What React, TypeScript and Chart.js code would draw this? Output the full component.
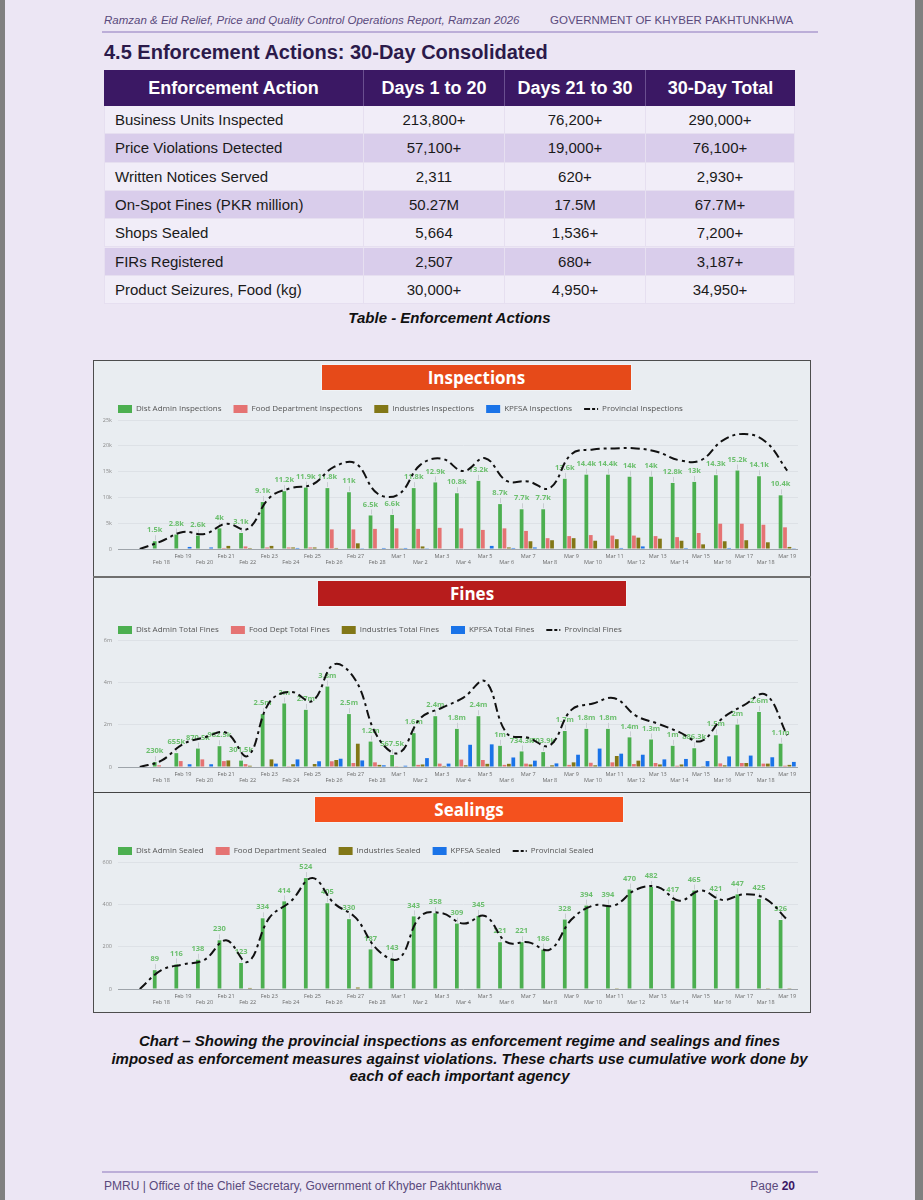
import React, { useEffect, useRef } from 'react';
import { Chart, registerables } from 'chart.js';

Chart.register(...registerables);
Chart.defaults.font.family = '"Open Sans", sans-serif';

// ---------------- Data ----------------
const days = ['',
  'Feb 18', 'Feb 19', 'Feb 20', 'Feb 21', 'Feb 22', 'Feb 23', 'Feb 24', 'Feb 25', 'Feb 26', 'Feb 27', 'Feb 28',
  'Mar 1', 'Mar 2', 'Mar 3', 'Mar 4', 'Mar 5', 'Mar 6', 'Mar 7', 'Mar 8', 'Mar 9', 'Mar 10',
  'Mar 11', 'Mar 12', 'Mar 13', 'Mar 14', 'Mar 15', 'Mar 16', 'Mar 17', 'Mar 18', 'Mar 19'];

// Inspections (thousands)
const inspDistAdmin = [0, 1.5, 2.8, 2.6, 4, 3.1, 9.1, 11.2, 11.9, 11.8, 11, 6.5,
  6.6, 11.8, 12.9, 10.8, 13.2, 8.7, 7.7, 7.7, 13.6, 14.4, 14.4, 14, 14, 12.8, 13, 14.3, 15.2, 14.1, 10.4];
const inspFood = [0, 0, 0.1, 0, 0.2, 0.5, 0.3, 0.3, 0.3, 3.8, 3.8, 3.9,
  4.0, 3.9, 4.1, 4.0, 3.7, 4.0, 3.5, 2.1, 2.5, 2.7, 2.6, 2.6, 2.5, 2.3, 3.1, 4.9, 4.9, 4.7, 4.2];
const inspIndustries = [0, 0, 0, 0, 0.6, 0.2, 0.6, 0.3, 0.3, 0.2, 1.1, 0.1,
  0.05, 0.5, 0.1, 0.1, 0.1, 0.3, 1.5, 1.7, 2.1, 1.6, 1.9, 2.2, 2.0, 1.6, 0.9, 1.5, 1.7, 1.3, 0.4];
const inspKpfsa = [0, 0, 0.4, 0.3, 0.1, 0.1, 0.1, 0.2, 0.1, 0.1, 0.05, 0.2,
  0.2, 0.05, 0.1, 0.1, 0.6, 0.2, 0.3, 0.1, 0.1, 0.1, 0.2, 0.5, 0.1, 0.2, 0.1, 0.2, 0.1, 0.1, 0.05];
const inspProvincial = [0, 1.5, 3.3, 2.9, 4.9, 3.9, 9.9, 11.8, 12.5, 15.9, 16.6, 10.8,
  10.6, 16.3, 17.5, 15.1, 17.6, 13.2, 13.1, 11.8, 18.4, 19.3, 19.5, 19.5, 18.8, 17.2, 17.2, 21.0, 22.3, 20.8, 15.2];

// Fines (millions PKR)
const finesDistAdmin = [0, 0.23, 0.655, 0.8705, 0.9825, 0.3015, 2.5, 3, 2.7, 3.8, 2.5, 1.2,
  0.5675, 1.6, 2.4, 1.8, 2.4, 1, 0.7343, 0.7039, 1.7, 1.8, 1.8, 1.4, 1.3, 1, 0.8863, 1.5, 2, 2.6, 1.1];
const finesFood = [0, 0.08, 0.28, 0.36, 0.28, 0.14, 0.02, 0.01, 0.02, 0.27, 0.19, 0.22,
  0.01, 0.1, 0.16, 0.35, 0.33, 0.1, 0.16, 0.03, 0.1, 0.2, 0.22, 0.14, 0.19, 0.06, 0.02, 0.17, 0.19, 0.16, 0.06];
const finesIndustries = [0, 0, 0, 0, 0.31, 0.06, 0.36, 0.13, 0.14, 0.33, 1.1, 0.1,
  0.02, 0.12, 0.05, 0.08, 0.15, 0.15, 0.12, 0.08, 0.22, 0.08, 0.52, 0.3, 0.12, 0.12, 0.01, 0.08, 0.19, 0.16, 0.1];
const finesKpfsa = [0, 0, 0.13, 0.13, 0, 0, 0.16, 0.36, 0.27, 0.39, 0.31, 0.08,
  0.06, 0.42, 0.16, 1.05, 1.07, 0.45, 0.3, 0.17, 0.58, 0.87, 0.63, 0.58, 0.36, 0.38, 0.28, 0.5, 0.54, 0.46, 0.24];
const finesProvincial = [0, 0.3, 1.08, 1.4, 1.62, 0.52, 3.05, 3.55, 3.12, 4.85, 4.1, 1.45,
  0.66, 2.3, 2.8, 3.28, 4.05, 1.6, 1.38, 1.02, 2.7, 3.0, 3.25, 2.42, 2.05, 1.65, 1.22, 2.3, 2.92, 3.42, 1.5];

// Sealings (units)
const sealDistAdmin = [0, 89, 116, 138, 230, 123, 334, 414, 524, 405, 330, 187,
  143, 343, 358, 309, 345, 221, 221, 186, 328, 394, 394, 470, 482, 417, 465, 421, 447, 425, 326];
const sealFood = [0, 0, 0, 0, 0, 0, 2, 0, 0, 0, 0, 0,
  0, 0, 0, 0, 0, 0, 0, 0, 0, 0, 0, 0, 0, 0, 0, 0, 0, 0, 0];
const sealIndustries = [0, 0, 0, 0, 0, 5, 0, 0, 0, 0, 7, 0,
  0, 0, 0, 0, 0, 0, 0, 0, 0, 0, 1, 0, 0, 0, 0, 0, 0, 1, 1];
const sealKpfsa = [0, 0, 0, 0, 0, 0, 0, 0, 0, 0, 0, 0,
  0, 0, 0, 0, 0, 0, 0, 0, 0, 0, 0, 0, 0, 0, 0, 0, 0, 0, 0];
const sealProvincial = [0, 89, 116, 138, 230, 128, 336, 414, 524, 405, 337, 187,
  143, 343, 358, 309, 345, 221, 221, 186, 328, 394, 395, 470, 482, 417, 465, 421, 447, 426, 327];

const inspNames = ['Dist Admin Inspections', 'Food Department Inspections', 'Industries Inspections', 'KPFSA Inspections', 'Provincial Inspections'];
const finesNames = ['Dist Admin Total Fines', 'Food Dept Total Fines', 'Industries Total Fines', 'KPFSA Total Fines', 'Provincial Fines'];
const sealNames = ['Dist Admin Sealed', 'Food Department Sealed', 'Industries Sealed', 'KPFSA Sealed', 'Provincial Sealed'];

// Table
const tableHeaders = ['Enforcement Action', 'Days 1 to 20', 'Days 21 to 30', '30-Day Total'];
const tableActions = ['Business Units Inspected', 'Price Violations Detected', 'Written Notices Served',
  'On-Spot Fines (PKR million)', 'Shops Sealed', 'FIRs Registered', 'Product Seizures, Food (kg)'];
const tableDays1to20 = ['213,800+', '57,100+', '2,311', '50.27M', '5,664', '2,507', '30,000+'];
const tableDays21to30 = ['76,200+', '19,000+', '620+', '17.5M', '1,536+', '680+', '4,950+'];
const tableTotal = ['290,000+', '76,100+', '2,930+', '67.7M+', '7,200+', '3,187+', '34,950+'];

// ---------------- Helpers ----------------
const trim1 = (x: number) => String(parseFloat(x.toFixed(1)));
const fmtK = (v: number) => `${trim1(v)}k`;
const fmtFine = (v: number) => (v >= 1 ? `${trim1(v)}m` : `${trim1(v * 1000)}k`);

const BAR_COLORS = ['#4caf50', '#e57373', '#827717', '#1a73e8'];

// Fixes the legend box height and shifts its drawing to the right.
const legendTweakPlugin = {
  id: 'legendTweak',
  beforeLayout(chart: any, _args: any, opts: any) {
    const lg = chart.legend;
    if (lg && !lg.__patched) {
      const origFit = lg.fit.bind(lg);
      lg.fit = function () {
        origFit();
        this.height = opts.height;
      };
      const origDraw = lg.draw.bind(lg);
      lg.draw = function () {
        const c = this.ctx;
        c.save();
        c.translate(opts.dx, 0);
        origDraw();
        c.restore();
      };
      lg.__patched = true;
    }
  },
};

const barLabelPlugin = {
  id: 'barLabels',
  afterDatasetDraw(chart: any, args: any, opts: any) {
    if (args.index !== 0) return;
    const ctx = chart.ctx;
    const data = chart.data.datasets[0].data;
    ctx.save();
    ctx.font = `bold ${opts.size}px "Open Sans", sans-serif`;
    ctx.textAlign = 'center';
    ctx.textBaseline = 'middle';
    args.meta.data.forEach((bar: any, i: number) => {
      const v = data[i];
      if (!v) return;
      const x = Math.round(bar.x) + 0.5;
      ctx.strokeStyle = '#c9cdd2';
      ctx.lineWidth = 1;
      ctx.beginPath();
      ctx.moveTo(x, bar.y - 1);
      ctx.lineTo(x, bar.y - 6);
      ctx.stroke();
      ctx.fillStyle = opts.color;
      ctx.fillText(opts.format(v), bar.x, bar.y - 11);
    });
    ctx.restore();
  },
};

type Spec = {
  names: string[];
  bars: number[][];
  total: number[];
  yMax: number;
  yStep: number;
  yTick: (v: number) => string;
  label: (v: number) => string;
  legendHeight: number;
};

function makeConfig(spec: Spec): any {
  return {
    type: 'bar',
    data: {
      labels: days,
      datasets: [
        ...spec.bars.map((d, i) => ({
          type: 'bar',
          label: spec.names[i],
          data: d,
          backgroundColor: BAR_COLORS[i],
          borderWidth: 0,
          categoryPercentage: 0.82,
          barPercentage: 0.85,
          order: 1,
        })),
        {
          type: 'line',
          label: spec.names[4],
          data: spec.total,
          borderColor: '#111111',
          backgroundColor: '#111111',
          borderWidth: 2,
          borderDash: [9, 4, 3, 4],
          tension: 0.4,
          pointRadius: 0,
          fill: false,
          order: 0,
        },
      ],
    },
    options: {
      responsive: false,
      maintainAspectRatio: false,
      animation: false,
      layout: { padding: { left: 0, right: 12, top: 0, bottom: 0 } },
      plugins: {
        legend: {
          position: 'top',
          align: 'start',
          labels: {
            usePointStyle: true,
            pointStyleWidth: 14,
            boxHeight: 8,
            padding: 12,
            color: '#555555',
            font: { size: 8 },
            generateLabels: (chart: any) => {
              const items = (Chart.defaults.plugins.legend.labels as any).generateLabels(chart);
              items.forEach((it: any) => {
                if (it.datasetIndex === 4) {
                  it.pointStyle = 'line';
                  it.lineDash = [6, 2, 3, 2];
                  it.lineWidth = 2;
                  it.strokeStyle = '#111111';
                } else {
                  it.pointStyle = 'rect';
                  it.lineWidth = 0;
                }
              });
              return items.sort((a: any, b: any) => a.datasetIndex - b.datasetIndex);
            },
          },
        },
        tooltip: { enabled: false },
        legendTweak: { height: spec.legendHeight, dx: 12 },
        barLabels: { format: spec.label, color: '#6cbf6e', size: 7.5 },
      },
      scales: {
        x: {
          grid: { display: false, drawTicks: false },
          border: { display: false },
          ticks: {
            autoSkip: false,
            maxRotation: 0,
            minRotation: 0,
            padding: 4,
            color: '#6b6b6b',
            font: { size: 5.5 },
            callback: (_v: any, i: number) =>
              i === 0 ? '' : i % 2 === 0 ? [days[i], ''] : ['', days[i]],
          },
          afterFit: (s: any) => {
            s.height = 20;
          },
        },
        y: {
          min: 0,
          max: spec.yMax,
          ticks: {
            stepSize: spec.yStep,
            padding: 6,
            color: '#8a8a8a',
            font: { size: 5.5 },
            callback: (v: any) => spec.yTick(Number(v)),
          },
          grid: {
            color: (c: any) => (c.tick && c.tick.value === 0 ? '#9ea4aa' : '#dde1e6'),
            tickLength: 11,
            lineWidth: 1,
          },
          border: { display: false },
          afterFit: (s: any) => {
            s.width = 35;
          },
        },
      },
    },
    plugins: [legendTweakPlugin, barLabelPlugin],
  };
}

function ChartCanvas(props: { spec: Spec; left: number; top: number; width: number; height: number }) {
  const ref = useRef<HTMLCanvasElement>(null);
  useEffect(() => {
    const chart = new Chart(ref.current as HTMLCanvasElement, makeConfig(props.spec));
    return () => chart.destroy();
  }, []);
  return (
    <canvas
      ref={ref}
      width={props.width}
      height={props.height}
      style={{ position: 'absolute', left: props.left, top: props.top, width: props.width, height: props.height }}
    />
  );
}

const inspSpec: Spec = {
  names: inspNames,
  bars: [inspDistAdmin, inspFood, inspIndustries, inspKpfsa],
  total: inspProvincial,
  yMax: 25,
  yStep: 5,
  yTick: (v) => (v === 0 ? '0' : `${v}k`),
  label: fmtK,
  legendHeight: 27,
};
const finesSpec: Spec = {
  names: finesNames,
  bars: [finesDistAdmin, finesFood, finesIndustries, finesKpfsa],
  total: finesProvincial,
  yMax: 6,
  yStep: 2,
  yTick: (v) => (v === 0 ? '0' : `${v}m`),
  label: fmtFine,
  legendHeight: 26,
};
const sealSpec: Spec = {
  names: sealNames,
  bars: [sealDistAdmin, sealFood, sealIndustries, sealKpfsa],
  total: sealProvincial,
  yMax: 600,
  yStep: 200,
  yTick: (v) => String(v),
  label: (v) => String(v),
  legendHeight: 27,
};

const PAGE_FONT = '"Liberation Sans", Arial, sans-serif';

function Banner(props: { text: string; left: number; top: number; width: number; color: string }) {
  return (
    <div
      style={{
        position: 'absolute',
        left: props.left,
        top: props.top,
        width: props.width,
        height: 25,
        background: props.color,
        color: '#ffffff',
        fontFamily: '"Open Sans", sans-serif',
        fontWeight: 700,
        fontSize: 17,
        lineHeight: '25px',
        textAlign: 'center',
        boxShadow: '0 0 0 1px rgba(255,255,255,0.35)',
      }}
    >
      {props.text}
    </div>
  );
}

export default function App() {
  const colLefts = [104, 364, 505, 646];
  const colWidths = [260, 141, 141, 149];
  const rowH = 28.3;
  const columns = [tableActions, tableDays1to20, tableDays21to30, tableTotal];

  return (
    <div style={{ position: 'absolute', left: 0, top: 0, width: 923, height: 1200, background: '#808080', overflow: 'hidden' }}>
      <div style={{ position: 'absolute', left: 5, top: 0, width: 910, height: 1200, background: '#ece6f4' }} />

      {/* Header */}
      <div style={{ position: 'absolute', left: 104, top: 12, height: 16, lineHeight: '16px', fontFamily: PAGE_FONT, fontStyle: 'italic', fontSize: 11.5, color: '#5a4a7c', whiteSpace: 'nowrap' }}>
        Ramzan &amp; Eid Relief, Price and Quality Control Operations Report, Ramzan 2026
      </div>
      <div style={{ position: 'absolute', left: 550, top: 12, height: 16, lineHeight: '16px', fontFamily: PAGE_FONT, fontSize: 11.5, color: '#5a4a7c', whiteSpace: 'nowrap' }}>
        GOVERNMENT OF KHYBER PAKHTUNKHWA
      </div>
      <div style={{ position: 'absolute', left: 102, top: 31, width: 716, height: 2, background: '#bcaed8' }} />

      {/* Title */}
      <div style={{ position: 'absolute', left: 104, top: 40, height: 24, lineHeight: '24px', fontFamily: PAGE_FONT, fontWeight: 700, fontSize: 20, color: '#2b1a4a', whiteSpace: 'nowrap' }}>
        4.5 Enforcement Actions: 30-Day Consolidated
      </div>

      {/* Table header */}
      {tableHeaders.map((h, c) => (
        <div
          key={'h' + c}
          style={{
            position: 'absolute',
            left: colLefts[c],
            top: 70,
            width: colWidths[c],
            height: 36,
            boxSizing: 'border-box',
            background: '#3b1864',
            borderRight: c < 3 ? '1px solid #6a4f8f' : 'none',
            color: '#ffffff',
            fontFamily: PAGE_FONT,
            fontWeight: 700,
            fontSize: 18,
            lineHeight: '36px',
            textAlign: 'center',
            whiteSpace: 'nowrap',
          }}
        >
          {h}
        </div>
      ))}
      {/* Table rows */}
      {tableActions.map((_, r) =>
        columns.map((col, c) => (
          <div
            key={`r${r}c${c}`}
            style={{
              position: 'absolute',
              left: colLefts[c],
              top: 106 + r * rowH,
              width: colWidths[c],
              height: rowH,
              boxSizing: 'border-box',
              background: r % 2 === 0 ? '#f1edf8' : '#d9cdeb',
              borderRight: '1px solid #e6dff0',
              borderBottom: '1px solid #e6dff0',
              borderLeft: c === 0 ? '1px solid #e6dff0' : 'none',
              color: '#1a1a1a',
              fontFamily: PAGE_FONT,
              fontSize: 15,
              lineHeight: `${rowH}px`,
              textAlign: c === 0 ? 'left' : 'center',
              paddingLeft: c === 0 ? 10 : 0,
              whiteSpace: 'nowrap',
            }}
          >
            {col[r]}
          </div>
        ))
      )}
      <div style={{ position: 'absolute', left: 104, top: 309, width: 691, height: 18, lineHeight: '18px', textAlign: 'center', fontFamily: PAGE_FONT, fontWeight: 700, fontStyle: 'italic', fontSize: 15, color: '#111111' }}>
        Table - Enforcement Actions
      </div>

      {/* Chart panel */}
      <div style={{ position: 'absolute', left: 93, top: 360, width: 718, height: 653, boxSizing: 'border-box', border: '1px solid #4d4d4d', background: '#e9edf1' }} />
      <div style={{ position: 'absolute', left: 93, top: 576, width: 718, height: 2, background: '#6f6f6f' }} />
      <div style={{ position: 'absolute', left: 93, top: 792, width: 718, height: 1, background: '#444444' }} />

      <Banner text="Inspections" left={322} top={365} width={309} color="#e64a19" />
      <Banner text="Fines" left={318} top={581} width={308} color="#b71c1c" />
      <Banner text="Sealings" left={315} top={797} width={308} color="#f4511e" />

      <ChartCanvas spec={inspSpec} left={94} top={393} width={716} height={176} />
      <ChartCanvas spec={finesSpec} left={94} top={614} width={716} height={173} />
      <ChartCanvas spec={sealSpec} left={94} top={835} width={716} height={174} />

      {/* Chart caption */}
      <div style={{ position: 'absolute', left: 60, top: 1032, width: 799, lineHeight: '17.5px', textAlign: 'center', fontFamily: PAGE_FONT, fontWeight: 700, fontStyle: 'italic', fontSize: 15, color: '#111111' }}>
        Chart – Showing the provincial inspections as enforcement regime and sealings and fines
        <br />
        imposed as enforcement measures against violations. These charts use cumulative work done by
        <br />
        each of each important agency
      </div>

      {/* Footer */}
      <div style={{ position: 'absolute', left: 102, top: 1171, width: 716, height: 2, background: '#bcaed8' }} />
      <div style={{ position: 'absolute', left: 104, top: 1178, height: 16, lineHeight: '16px', fontFamily: PAGE_FONT, fontSize: 12, color: '#5a4a7c', whiteSpace: 'nowrap' }}>
        PMRU | Office of the Chief Secretary, Government of Khyber Pakhtunkhwa
      </div>
      <div style={{ position: 'absolute', left: 695, width: 100, top: 1178, height: 16, lineHeight: '16px', textAlign: 'right', fontFamily: PAGE_FONT, fontSize: 12, color: '#5a4a7c', whiteSpace: 'nowrap' }}>
        Page <b style={{ color: '#3b1864' }}>20</b>
      </div>
    </div>
  );
}
